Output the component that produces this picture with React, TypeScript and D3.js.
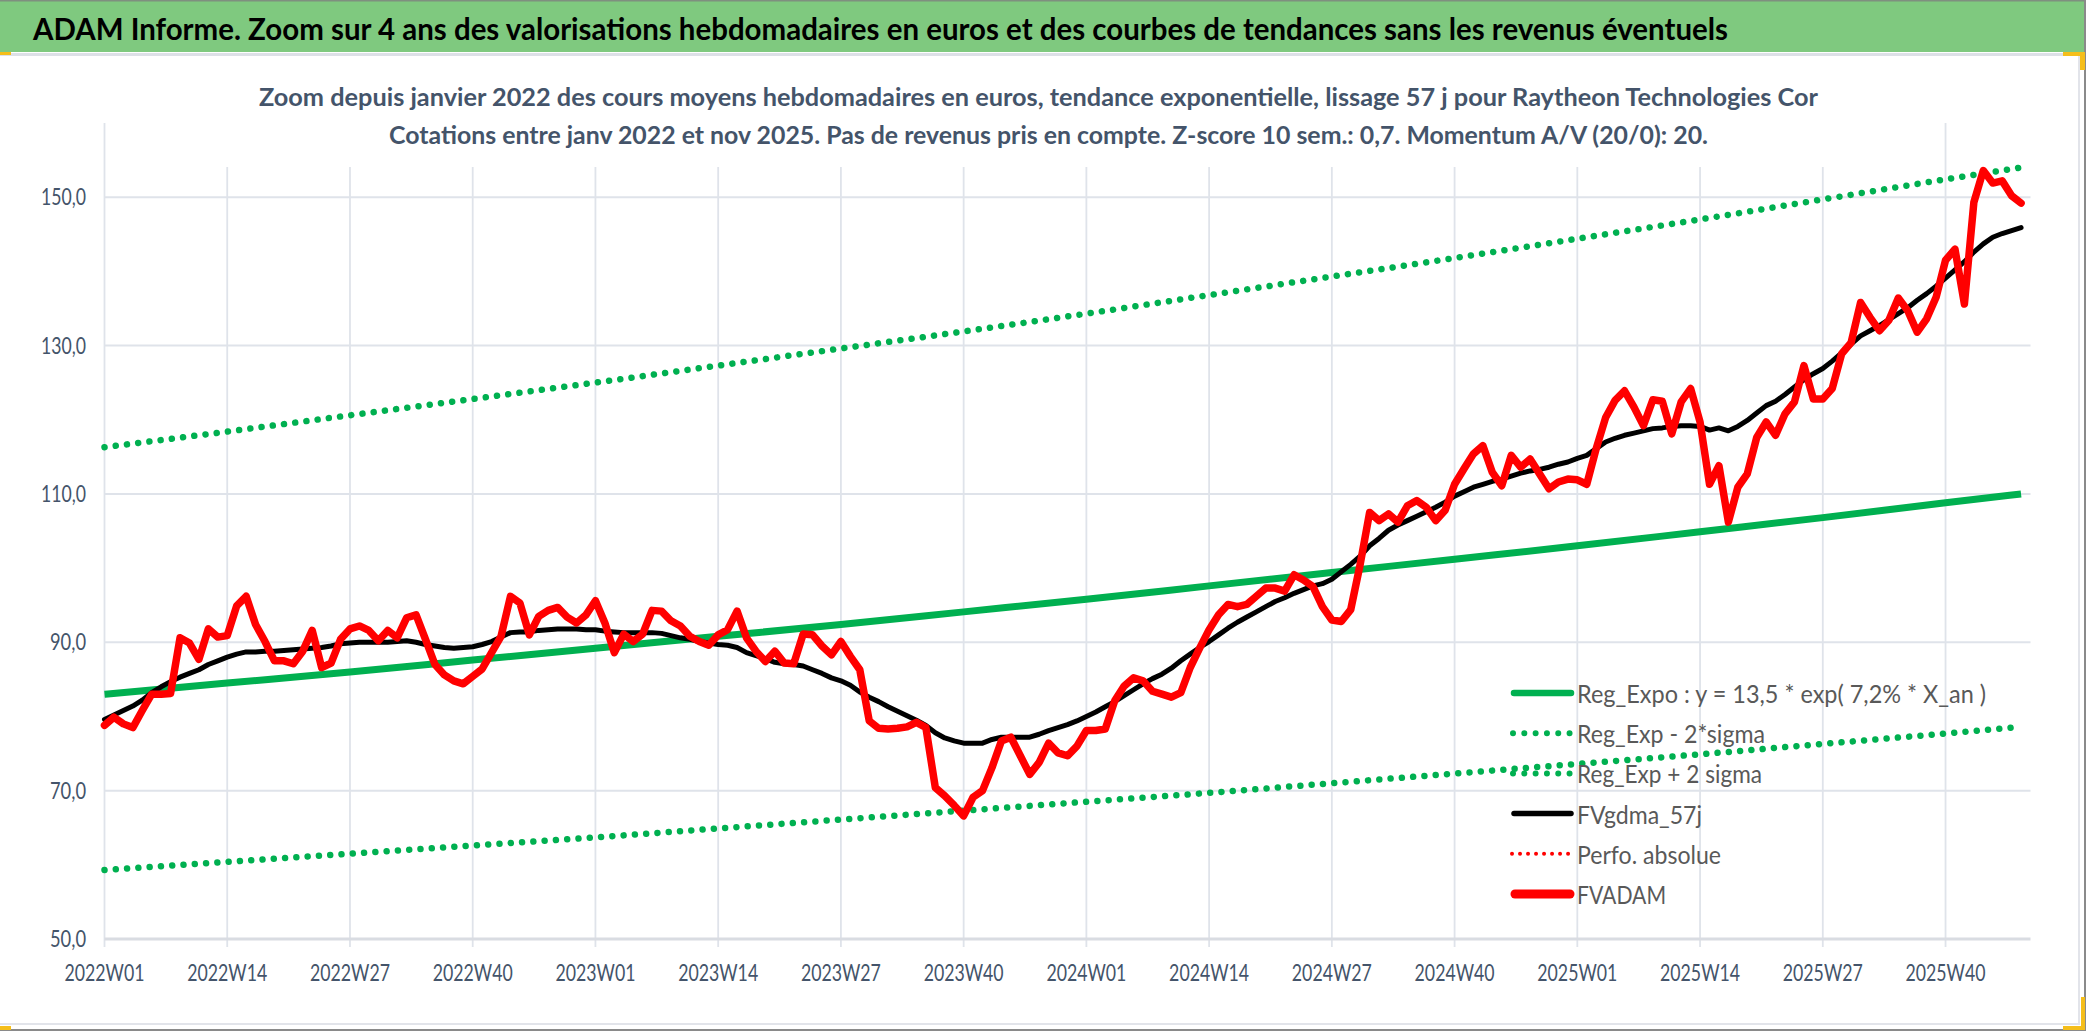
import React from "react";
import * as d3 from "d3";

// ---- data (weekly, 2022W01 .. 2025W48) ----
const X_TICK_LABELS = [
  "2022W01", "2022W14", "2022W27", "2022W40",
  "2023W01", "2023W14", "2023W27", "2023W40",
  "2024W01", "2024W14", "2024W27", "2024W40",
  "2025W01", "2025W14", "2025W27", "2025W40",
];
const TICK_STEP = 13; // weeks between labels
const Y_TICKS = [50, 70, 90, 110, 130, 150];

// FVADAM, weekly average price in euros
const fvadam = [
  78.8, 79.9, 79.0, 78.5, 80.8, 83.0, 83.0, 83.1, 90.6, 89.9,
  87.7, 91.8, 90.7, 90.9, 94.9, 96.2, 92.4, 90.1, 87.5, 87.5,
  87.1, 88.8, 91.6, 86.6, 87.2, 90.4, 91.8, 92.2, 91.6, 90.2,
  91.6, 90.6, 93.3, 93.7, 90.4, 87.0, 85.6, 84.8, 84.4, 85.4,
  86.4, 88.6, 90.8, 96.2, 95.3, 91.0, 93.5, 94.3, 94.7, 93.4,
  92.6, 93.7, 95.6, 92.6, 88.6, 91.1, 90.1, 91.1, 94.3, 94.2,
  92.9, 92.2, 90.8, 90.1, 89.6, 91.0, 91.7, 94.2, 90.6, 88.8,
  87.4, 88.8, 87.2, 87.1, 91.1, 91.0, 89.5, 88.3, 90.1, 88.1,
  86.3, 79.4, 78.4, 78.3, 78.4, 78.6, 79.2, 78.5, 70.4, 69.3,
  68.0, 66.6, 69.1, 70.0, 73.1, 76.7, 77.2, 74.7, 72.2, 73.8,
  76.4, 75.1, 74.7, 76.0, 78.1, 78.1, 78.3, 82.1, 84.1, 85.2,
  84.8, 83.4, 83.0, 82.6, 83.2, 86.6, 89.2, 91.7, 93.7, 95.1,
  94.8, 95.1, 96.2, 97.3, 97.3, 96.9, 99.1, 98.4, 97.5, 94.8,
  93.0, 92.8, 94.4, 100.5, 107.5, 106.4, 107.3, 106.2, 108.4, 109.1,
  108.2, 106.4, 107.8, 111.3, 113.4, 115.4, 116.5, 112.9, 111.1, 115.2,
  113.6, 114.7, 112.7, 110.7, 111.6, 112.0, 111.9, 111.3, 116.1, 120.3,
  122.6, 123.9, 121.7, 119.2, 122.7, 122.5, 118.1, 122.4, 124.2, 119.7,
  111.3, 113.8, 106.2, 110.9, 112.7, 117.6, 119.7, 117.9, 120.8, 122.4,
  127.3, 122.8, 122.8, 124.2, 128.9, 130.4, 135.8, 133.8, 132.0, 133.4,
  136.4, 134.7, 131.8, 133.6, 136.5, 141.5, 143.0, 135.6, 149.3, 153.6,
  151.9, 152.2, 150.2, 149.2,
];

// FVgdma_57j, smoothed curve
const fvgdma = [
  79.6, 80.2, 80.8, 81.4, 82.2, 83.2, 84.0, 84.7, 85.3, 85.8,
  86.3, 87.0, 87.5, 88.0, 88.4, 88.7, 88.7, 88.8, 88.8, 88.9,
  89.0, 89.1, 89.2, 89.3, 89.5, 89.8, 89.9, 90.0, 90.0, 90.0,
  90.0, 90.1, 90.2, 90.0, 89.7, 89.5, 89.3, 89.2, 89.3, 89.4,
  89.7, 90.1, 90.7, 91.3, 91.4, 91.4, 91.6, 91.7, 91.8, 91.8,
  91.8, 91.7, 91.7, 91.5, 91.4, 91.3, 91.3, 91.3, 91.3, 91.2,
  90.9, 90.6, 90.4, 90.1, 89.9, 89.7, 89.6, 89.3, 88.6, 88.2,
  87.8, 87.3, 87.1, 87.0, 86.8, 86.3, 85.8, 85.2, 84.8, 84.2,
  83.3, 82.6, 82.0, 81.3, 80.7, 80.1, 79.5, 78.8, 77.8, 77.1,
  76.7, 76.4, 76.4, 76.4, 76.9, 77.2, 77.2, 77.2, 77.2, 77.6,
  78.1, 78.5, 78.9, 79.4, 80.0, 80.6, 81.3, 82.0, 82.8, 83.6,
  84.4, 85.1, 85.7, 86.5, 87.5, 88.4, 89.3, 90.1, 91.0, 91.9,
  92.7, 93.4, 94.1, 94.8, 95.5, 96.0, 96.6, 97.1, 97.6, 97.9,
  98.5, 99.5, 100.5, 101.6, 103.0, 104.0, 105.1, 105.8, 106.4, 107.0,
  107.6, 108.2, 108.9, 109.7, 110.3, 110.9, 111.3, 111.7, 112.0, 112.4,
  112.8, 113.1, 113.3, 113.6, 114.0, 114.3, 114.8, 115.2, 116.1, 117.0,
  117.5, 117.9, 118.2, 118.5, 118.8, 118.9, 119.1, 119.2, 119.2, 119.1,
  118.6, 118.9, 118.5, 119.1, 119.9, 120.9, 121.9, 122.5, 123.4, 124.4,
  125.4, 126.2, 126.9, 127.9, 129.0, 130.2, 131.3, 132.0, 132.7, 133.5,
  134.3, 135.1, 136.1, 137.0, 138.0, 139.1, 140.2, 141.3, 142.6, 143.7,
  144.6, 145.1, 145.5, 145.9,
];

// trend curves, read every 13 weeks (and at the last week)
const trendWeeks = [0, 13, 26, 39, 52, 65, 78, 91, 104, 117, 130, 143, 156, 169, 182, 195, 203];
const regExpo = [83.0, 84.5, 86.0, 87.6, 89.2, 90.8, 92.4, 94.1, 95.8, 97.6, 99.4, 101.2, 103.0, 104.9, 106.8, 108.8, 110.0];
const regMinus = [59.3, 60.4, 61.5, 62.6, 63.7, 64.9, 66.1, 67.3, 68.5, 69.7, 71.0, 72.3, 73.6, 74.9, 76.3, 77.7, 78.6];
const regPlus = [116.3, 118.4, 120.6, 122.8, 125.0, 127.3, 129.6, 131.9, 134.3, 136.8, 139.3, 141.8, 144.4, 147.0, 149.7, 152.4, 154.0];

const TITLE = "ADAM Informe. Zoom sur 4 ans des valorisations hebdomadaires en euros et des courbes de tendances sans les revenus éventuels";
const SUB1 = "Zoom depuis janvier 2022 des cours moyens hebdomadaires en euros, tendance exponentielle, lissage 57 j pour Raytheon Technologies Cor";
const SUB2 = "Cotations entre janv 2022 et nov 2025. Pas de revenus pris en compte. Z-score 10 sem.: 0,7. Momentum A/V (20/0): 20.";

const LEGEND = [
  { label: "Reg_Expo : y = 13,5 * exp( 7,2% *  X_an )", kind: "green", len: 409 },
  { label: "Reg_Exp - 2*sigma", kind: "greenDot", len: 188 },
  { label: "Reg_Exp + 2 sigma", kind: "greenDot", len: 185 },
  { label: "FVgdma_57j", kind: "black", len: 125 },
  { label: "Perfo. absolue", kind: "redDot", len: 144 },
  { label: "FVADAM", kind: "red", len: 89 },
];

const W = 2086;
const H = 1031;
const FONT = "Lato, 'Open Sans', sans-serif";
const GREEN = "#00B050";
const RED = "#FF0000";
const GRID = "#DFE3EA";
const AXIS_TEXT = "#44546A";
const DOTS = "0.01 11.3";

export default function App() {
  const x = d3.scaleLinear().domain([0, 204]).range([104.5, 2030.5]);
  const y = d3.scaleLinear().domain([50, 160]).range([939, 123]);

  const weekLine = d3
    .line<number>()
    .x((_, i) => x(i))
    .y((d) => y(d));

  const trendLine = d3
    .line<number>()
    .x((_, i) => x(trendWeeks[i]))
    .y((d) => y(d))
    .curve(d3.curveMonotoneX);

  const tickWeeks = X_TICK_LABELS.map((_, k) => k * TICK_STEP);

  return (
    <svg
      width={W}
      height={H}
      style={{ position: "absolute", left: 0, top: 0, display: "block" }}
      fontFamily={FONT}
    >
      <rect x={0} y={0} width={W} height={H} fill="#fff" />

      {/* banner */}
      <rect x={0} y={0} width={W} height={52} fill="#7FC97F" />
      <line x1={0} x2={W} y1={0.75} y2={0.75} stroke="#7F8F7F" strokeWidth={1.5} />
      <text x={33} y={40} fontSize={30} fontWeight="bold" fill="#000" textLength={1695} lengthAdjust="spacingAndGlyphs">
        {TITLE}
      </text>
      <line x1={0} x2={W} y1={54.5} y2={54.5} stroke="#DDE0E7" strokeWidth={3} />

      {/* frame */}
      <line x1={2079} x2={2079} y1={56} y2={1024} stroke="#E2E4EA" strokeWidth={2} />
      <line x1={0} x2={2080} y1={1024} y2={1024} stroke="#E2E4EA" strokeWidth={2} />
      <line x1={0} x2={W} y1={1030} y2={1030} stroke="#8A8A8A" strokeWidth={2} />
      <line x1={2085} x2={2085} y1={0} y2={H} stroke="#8A8A8A" strokeWidth={2} />
      <rect x={2063} y={52} width={22} height={4} fill="#F5BE1A" />
      <rect x={2080} y={52} width={5} height={18} fill="#F5BE1A" />
      <rect x={2081} y={997} width={4} height={32} fill="#F5BE1A" />
      <rect x={2063} y={1026} width={22} height={4} fill="#F5BE1A" />
      <rect x={0} y={1026} width={11} height={4} fill="#F5BE1A" />
      <rect x={0} y={52} width={11} height={3} fill="#F5BE1A" />

      {/* gridlines */}
      {tickWeeks.map((w) => (
        <line key={"v" + w} x1={x(w)} x2={x(w)} y1={y(160)} y2={947} stroke={GRID} strokeWidth={1.8} />
      ))}
      {Y_TICKS.map((v) => (
        <line
          key={"h" + v}
          x1={x(0)}
          x2={x(204)}
          y1={y(v)}
          y2={y(v)}
          stroke={v === 50 ? "#D9DCE2" : GRID}
          strokeWidth={v === 50 ? 3 : 2}
        />
      ))}

      {/* chart title box covers the gridlines behind it */}
      <rect x={160} y={58} width={1740} height={109} fill="#fff" />
      <text x={259} y={106} fontSize={25.5} fontWeight="bold" fill={AXIS_TEXT} textLength={1559} lengthAdjust="spacingAndGlyphs">
        {SUB1}
      </text>
      <text x={389} y={144} fontSize={25.5} fontWeight="bold" fill={AXIS_TEXT} textLength={1319} lengthAdjust="spacingAndGlyphs">
        {SUB2}
      </text>

      {/* axis labels */}
      {Y_TICKS.map((v) => {
        const label = d3.format(".1f")(v).replace(".", ",");
        return (
          <text
            key={"yl" + v}
            x={86}
            y={y(v) + 8}
            fontSize={23}
            fill={AXIS_TEXT}
            textAnchor="end"
            textLength={9 * label.length}
            lengthAdjust="spacingAndGlyphs"
          >
            {label}
          </text>
        );
      })}
      {X_TICK_LABELS.map((label, k) => (
        <text
          key={label}
          x={x(tickWeeks[k]) - 40}
          y={981}
          fontSize={23.5}
          fill={AXIS_TEXT}
          textLength={80}
          lengthAdjust="spacingAndGlyphs"
        >
          {label}
        </text>
      ))}

      {/* series */}
      <path d={trendLine(regExpo) ?? ""} fill="none" stroke={GREEN} strokeWidth={7} strokeLinejoin="round" />
      <path d={trendLine(regMinus) ?? ""} fill="none" stroke={GREEN} strokeWidth={6.5} strokeDasharray={DOTS} strokeLinecap="round" />
      <path d={trendLine(regPlus) ?? ""} fill="none" stroke={GREEN} strokeWidth={6.5} strokeDasharray={DOTS} strokeLinecap="round" />
      <path d={weekLine(fvgdma) ?? ""} fill="none" stroke="#000" strokeWidth={5} strokeLinejoin="round" strokeLinecap="round" />
      <path d={weekLine(fvadam) ?? ""} fill="none" stroke={RED} strokeWidth={7.5} strokeLinejoin="round" strokeLinecap="round" />

      {/* legend */}
      {LEGEND.map((item, i) => {
        const cy = 693 + i * 40.2;
        let sample: React.ReactNode = null;
        if (item.kind === "green")
          sample = <line x1={1514} x2={1571} y1={cy} y2={cy} stroke={GREEN} strokeWidth={6.5} strokeLinecap="round" />;
        if (item.kind === "black")
          sample = <line x1={1514} x2={1571} y1={cy} y2={cy} stroke="#000" strokeWidth={5.5} strokeLinecap="round" />;
        if (item.kind === "red")
          sample = <line x1={1515} x2={1570} y1={cy} y2={cy} stroke={RED} strokeWidth={9} strokeLinecap="round" />;
        if (item.kind === "greenDot")
          sample = <line x1={1513} x2={1571} y1={cy} y2={cy} stroke={GREEN} strokeWidth={6} strokeDasharray={DOTS} strokeLinecap="round" />;
        if (item.kind === "redDot")
          sample = <line x1={1512} x2={1571} y1={cy} y2={cy} stroke={RED} strokeWidth={4} strokeDasharray="0.01 8" strokeLinecap="round" />;
        return (
          <g key={item.label}>
            {sample}
            <text x={1577} y={cy + 10} fontSize={25.5} fill="#595959" textLength={item.len} lengthAdjust="spacingAndGlyphs">
              {item.label}
            </text>
          </g>
        );
      })}
    </svg>
  );
}
